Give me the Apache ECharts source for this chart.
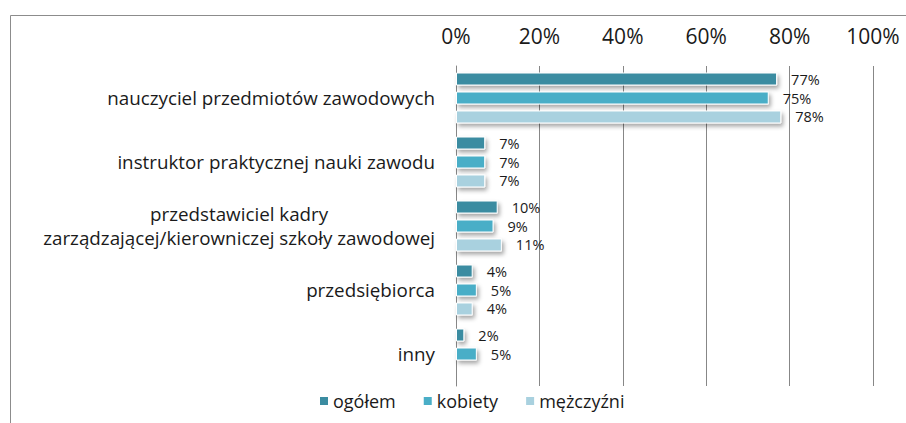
<!DOCTYPE html>
<html>
<head>
<meta charset="utf-8">
<script src="https://cdn.jsdelivr.net/npm/echarts@6/dist/echarts.min.js"></script>
<style>
  html, body { margin: 0; padding: 0; background: #fff; overflow: hidden; }
  #chart { width: 906px; height: 423px; }
</style>
</head>
<body>
<div id="chart"></div>
<script>
var categories = [
  'nauczyciel przedmiotów zawodowych',
  'instruktor praktycznej nauki zawodu',
  'przedstawiciel kadry\nzarządzającej/kierowniczej szkoły zawodowej',
  'przedsiębiorca',
  'inny'
];
var seriesNames = ['ogółem', 'kobiety', 'mężczyźni'];
var ogolem = [77, 7, 10, 4, 2];
var kobiety = [75, 7, 9, 5, 5];
var mezczyzni = [78, 7, 11, 4, null];
var xTicks = [0, 20, 40, 60, 80, 100];

(function() {
  var font = 'Open Sans';
  var colors = ['#3b8ca1', '#4aaec7', '#a9d1df'];
  var grid = '#878787';
  var values = [ogolem, kobiety, mezczyzni];

  var el = document.getElementById('chart');
  var chart = echarts.init(el, null, { renderer: 'svg' });

  var series = seriesNames.map(function(name, i) {
    return {
      name: name,
      type: 'bar',
      data: values[i],
      barWidth: 13,
      barGap: '46%',
      itemStyle: {
        color: colors[i],
        borderColor: '#fff',
        borderWidth: 1,
        shadowColor: 'rgba(0,0,0,0.35)',
        shadowBlur: 4,
        shadowOffsetX: 2,
        shadowOffsetY: 3
      },
      label: {
        show: true,
        position: 'right',
        distance: 14,
        formatter: '{c}%',
        color: '#1a1a1a',
        fontFamily: font,
        fontSize: 14.5,
        lineHeight: 16
      }
    };
  });

  chart.setOption({
    animation: false,
    graphic: [{
      type: 'rect',
      left: 8,
      top: 13,
      shape: { width: 1000, height: 500 },
      style: { fill: 'none', stroke: '#8c8c8c', lineWidth: 1 },
      silent: true
    }],
    legend: {
      left: 313,
      top: 387,
      itemWidth: 10,
      itemHeight: 10,
      itemGap: 26,
      icon: 'rect',
      textStyle: { color: '#1a1a1a', fontFamily: font, fontSize: 18, padding: [0, 0, 0, -1] },
      data: seriesNames
    },
    grid: { left: 456, right: 33, top: 66, height: 320, containLabel: false },
    xAxis: {
      type: 'value',
      position: 'top',
      min: xTicks[0],
      max: xTicks[xTicks.length - 1],
      interval: 20,
      axisLine: { show: false },
      axisTick: { show: false },
      axisLabel: {
        formatter: '{value}%',
        color: '#1a1a1a',
        fontFamily: font,
        fontSize: 21,
        margin: 20
      },
      splitLine: { show: true, lineStyle: { color: grid, width: 1 } }
    },
    yAxis: {
      type: 'category',
      inverse: true,
      data: categories,
      axisLine: { show: true, lineStyle: { color: grid, width: 1 } },
      axisTick: { show: false },
      axisLabel: {
        margin: 21,
        color: '#1a1a1a',
        fontFamily: font,
        fontSize: 18.8,
        lineHeight: 24,
        formatter: function(v) {
          return v.split('\n').map(function(s) { return '{c|' + s + '}'; }).join('\n');
        },
        rich: {
          c: { align: 'center', fontFamily: font, fontSize: 18.8, color: '#1a1a1a', lineHeight: 24 }
        }
      }
    },
    series: series
  });
})();
</script>
</body>
</html>
